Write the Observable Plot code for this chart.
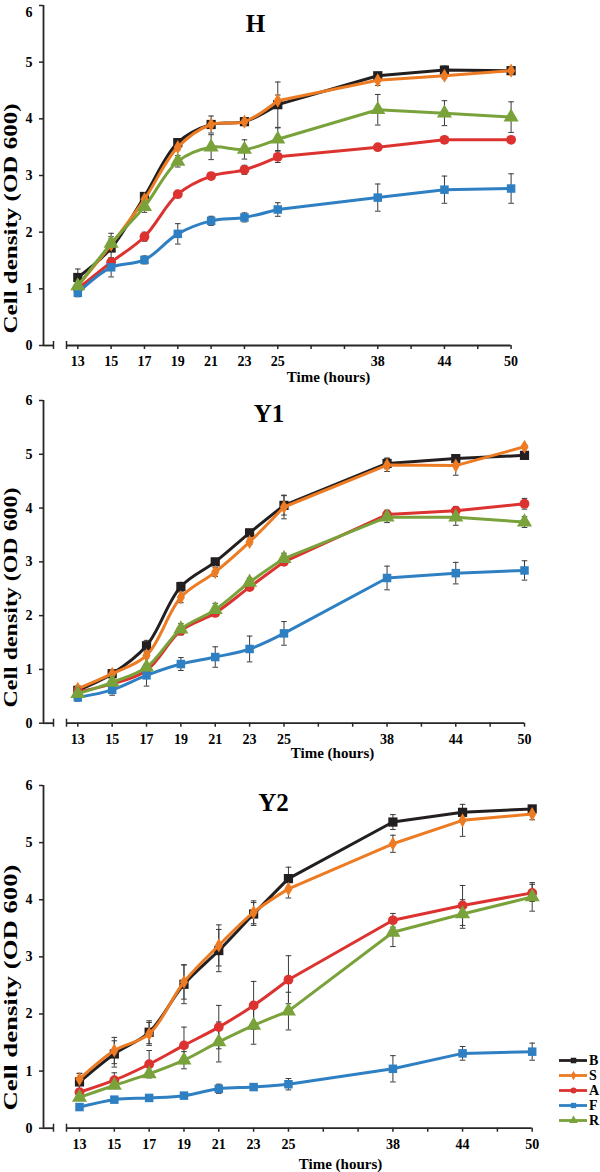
<!DOCTYPE html>
<html><head><meta charset="utf-8">
<script src="https://cdn.jsdelivr.net/npm/d3@7"></script>
<script src="https://cdn.jsdelivr.net/npm/@observablehq/plot@0.6"></script>
<style>
body{margin:0;background:#fff}
#wrap{position:relative;width:600px;height:1172px;overflow:hidden;background:#fff}
#wrap svg text{font-family:'Liberation Serif','Times New Roman',serif}
</style></head><body><div id="wrap"></div>
<script>
// ---- data ----
const tickLabels = ["13","15","17","19","21","23","25","","","38","","44","","50"];
const hours = [13,15,17,19,21,23,25,38,44,50];
const seriesNames = ["B","S","A","F","R"];
const yTicks = [0,1,2,3,4,5,6];
const panelTitles = ["H","Y1","Y2"];

// H
const hB  = [1.20,1.72,2.63,3.58,3.90,3.95,4.25,4.76,4.86,4.85];
const hBe = [0.15,0.26,0.05,0.05,0.15,0.04,0.40,0.05,0.07,0.03];
const hS  = [1.05,1.78,2.58,3.50,3.90,3.95,4.32,4.68,4.76,4.85];
const hSe = [0.05,0.10,0.05,0.05,0.05,0.05,0.10,0.09,0.05,0.03];
const hA  = [1.00,1.47,1.92,2.67,2.99,3.10,3.33,3.50,3.63,3.63];
const hAe = [0.05,0.05,0.08,0.05,0.06,0.08,0.10,0.03,0.05,0.05];
const hF  = [0.93,1.38,1.51,1.97,2.20,2.26,2.40,2.61,2.75,2.77];
const hFe = [0.07,0.17,0.07,0.18,0.08,0.08,0.12,0.24,0.24,0.26];
const hR  = [1.05,1.80,2.45,3.25,3.50,3.46,3.64,4.16,4.10,4.03];
const hRe = [0.05,0.12,0.10,0.10,0.22,0.17,0.20,0.27,0.22,0.27];
// Y1
const y1B  = [0.61,0.92,1.44,2.54,3.00,3.54,4.05,4.83,4.92,4.98];
const y1Be = [0.05,0.05,0.10,0.08,0.05,0.05,0.18,0.10,0.05,0.05];
const y1S  = [0.64,0.92,1.26,2.34,2.81,3.37,4.02,4.80,4.79,5.14];
const y1Se = [0.05,0.05,0.05,0.10,0.08,0.05,0.22,0.12,0.18,0.03];
const y1A  = [0.58,0.73,0.98,1.72,2.05,2.53,3.00,3.88,3.95,4.08];
const y1Ae = [0.05,0.05,0.05,0.08,0.06,0.06,0.05,0.08,0.08,0.10];
const y1F  = [0.48,0.62,0.89,1.10,1.23,1.38,1.67,2.70,2.79,2.84];
const y1Fe = [0.07,0.10,0.20,0.12,0.19,0.24,0.22,0.22,0.20,0.18];
const y1R  = [0.55,0.76,1.04,1.75,2.11,2.62,3.06,3.83,3.83,3.74];
const y1Re = [0.05,0.05,0.05,0.10,0.12,0.08,0.10,0.10,0.15,0.10];
// Y2
const y2B  = [0.81,1.30,1.68,2.52,3.11,3.75,4.37,5.36,5.53,5.59];
const y2Be = [0.15,0.23,0.20,0.34,0.37,0.20,0.20,0.13,0.05,0.05];
const y2S  = [0.86,1.36,1.65,2.56,3.20,3.78,4.19,4.98,5.39,5.50];
const y2Se = [0.10,0.23,0.20,0.30,0.36,0.20,0.16,0.15,0.28,0.10];
const y2A  = [0.63,0.84,1.12,1.45,1.77,2.15,2.60,3.64,3.90,4.12];
const y2Ae = [0.05,0.13,0.24,0.32,0.38,0.42,0.42,0.12,0.35,0.15];
const y2F  = [0.37,0.50,0.53,0.57,0.69,0.72,0.77,1.04,1.31,1.34];
const y2Fe = [0.05,0.05,0.05,0.05,0.08,0.05,0.10,0.23,0.12,0.15];
const y2R  = [0.54,0.75,0.95,1.19,1.51,1.80,2.05,3.43,3.75,4.05];
const y2Re = [0.05,0.05,0.05,0.15,0.35,0.33,0.33,0.25,0.25,0.25];

// ---- styles ----
const colors = {B:"#231f20", S:"#ec7b23", A:"#dc3330", F:"#2f80c2", R:"#79a23b"};
const symbols = {B:"square", S:"diamond", A:"circle", F:"square", R:"triangle"};
const radii = {B:5.2, S:4.3, A:4.9, F:4.8, R:5.6};
const FONT = "'Liberation Serif','Times New Roman',serif";
const AXIS = "#262626";

const panelData = [
  {B:[hB,hBe], S:[hS,hSe], A:[hA,hAe], F:[hF,hFe], R:[hR,hRe]},
  {B:[y1B,y1Be], S:[y1S,y1Se], A:[y1A,y1Ae], F:[y1F,y1Fe], R:[y1R,y1Re]},
  {B:[y2B,y2Be], S:[y2S,y2Se], A:[y2A,y2Ae], F:[y2F,y2Fe], R:[y2R,y2Re]},
];
const layout = [
  {svgTop:0,   svgH:388, x13:77.3, x50:510.6, yTop:5,   yBot:345,    tX:255,   tY:23,  lY:218, lLen:230, xlX:328, xlY:377},
  {svgTop:388, svgH:384, x13:77.3, x50:524,   yTop:400, yBot:722.7,  tX:268.5, tY:413, lY:597, lLen:220, xlX:332, xlY:752.5},
  {svgTop:772, svgH:400, x13:79,   x50:531.7, yTop:785, yBot:1127.7, tX:273,   tY:802, lY:987, lLen:246, xlX:340, xlY:1163.5},
];
const AXX = 43;
const capSymbol = {draw(ctx){ ctx.moveTo(-2.8,0); ctx.lineTo(2.8,0); }};

// last slot of the evenly sampled (smoothed) part: where the tick labels first leave a gap
const denseEnd = tickLabels.indexOf("");
const smoothLast = denseEnd - 1;

const wrap = document.getElementById("wrap");

panelData.forEach((pd, pi) => {
  const L = layout[pi];
  const n = tickLabels.length - 1;
  const step = (L.x50 - L.x13) / n;
  const xmin = -(L.x13 - AXX) / step;
  const brk1 = xmin + 10 / step, brk2 = xmin + 23 / step;
  const pxPerUnit = (L.yBot - L.yTop) / 6;
  const rows = seriesNames.flatMap(s => hours.map((h, i) => ({
    series: s, slot: tickLabels.indexOf(String(h)), v: pd[s][0][i], e: pd[s][1][i]
  })));
  const marks = [
    Plot.ruleX([xmin], {y1: 0, y2: 6, stroke: AXIS, strokeWidth: 1.8}),
    Plot.ruleY([0], {x1: xmin, x2: brk1, stroke: AXIS, strokeWidth: 1.8}),
    Plot.ruleY([0], {x1: brk2, x2: n, stroke: AXIS, strokeWidth: 1.8}),
    Plot.ruleX([brk1, brk2], {y1: -4 / pxPerUnit, y2: 4 / pxPerUnit, stroke: AXIS, strokeWidth: 1.5}),
    Plot.axisY({ticks: yTicks, tickSize: 4, tickPadding: 7, tickFormat: d => String(d), label: null, fontSize: 14, fontWeight: "bold", fontFamily: FONT, stroke: AXIS, strokeWidth: 1.5}),
    Plot.axisX({ticks: d3.range(0, n + 1), tickSize: 4, tickPadding: 7, tickFormat: i => tickLabels[i], label: null, fontSize: 14, fontWeight: "bold", fontFamily: FONT, stroke: AXIS, strokeWidth: 1.5}),
    Plot.ruleX(rows, {x: "slot", y1: d => d.v - d.e, y2: d => d.v + d.e, stroke: "#3a3a3a", strokeWidth: 1}),
    Plot.dot(rows, {x: "slot", y: d => d.v + d.e, symbol: capSymbol, stroke: "#3a3a3a", strokeWidth: 1}),
    Plot.dot(rows, {x: "slot", y: d => d.v - d.e, symbol: capSymbol, stroke: "#3a3a3a", strokeWidth: 1}),
  ];
  seriesNames.forEach(s => {
    const r = rows.filter(d => d.series === s);
    marks.push(Plot.line(r.filter(d => d.slot <= smoothLast), {x: "slot", y: "v", stroke: colors[s], strokeWidth: 3, curve: "catmull-rom"}));
    marks.push(Plot.line(r.filter(d => d.slot >= smoothLast), {x: "slot", y: "v", stroke: colors[s], strokeWidth: 3, curve: "linear"}));
    marks.push(Plot.dot(r, {x: "slot", y: "v", symbol: symbols[s], fill: colors[s], r: radii[s]}));
  });
  marks.push(
    Plot.text([panelTitles[pi]], {frameAnchor: "top-left", dx: L.tX - AXX, dy: L.tY - L.yTop, fontSize: 25, fontWeight: "bold", fontFamily: FONT, textAnchor: "middle", lineAnchor: "middle"}),
    Plot.text(["Cell density (OD 600)"], {frameAnchor: "top-left", dx: 10.5 - AXX, dy: L.lY - L.yTop, rotate: -90, fontSize: 19, fontWeight: "bold", fontFamily: FONT, textAnchor: "middle", lineAnchor: "middle"}),
    Plot.text(["Time (hours)"], {frameAnchor: "top-left", dx: L.xlX - AXX, dy: L.xlY - L.yTop, fontSize: 15, fontWeight: "bold", fontFamily: FONT, textAnchor: "middle", lineAnchor: "middle"})
  );
  const svg = Plot.plot({
    width: 600, height: L.svgH,
    marginLeft: AXX, marginRight: 600 - L.x50,
    marginTop: L.yTop - L.svgTop, marginBottom: L.svgTop + L.svgH - L.yBot,
    x: {domain: [xmin, n], axis: null},
    y: {domain: [0, 6], axis: null},
    style: {fontFamily: FONT, fontSize: "14px", color: "#000", background: "transparent", overflow: "visible"},
    marks
  });
  d3.select(svg).selectAll("text").filter(function(){ return this.textContent === "Cell density (OD 600)"; })
    .attr("textLength", L.lLen).attr("lengthAdjust", "spacingAndGlyphs");
  if (pi === 0) {
    // keep the top tick label inside the page, as in the reference
    d3.select(svg).selectAll("text").filter(function(){ return this.textContent === "6"; })
      .attr("dy", "0.5em");
  }
  svg.style.position = "absolute";
  svg.style.left = "0px";
  svg.style.top = L.svgTop + "px";
  wrap.appendChild(svg);
});

// ---- legend ----
const legend = Plot.plot({
  width: 50, height: 100, margin: 0,
  x: {domain: [0, 1], range: [9, 37], axis: null},
  y: {type: "point", domain: seriesNames, range: [11, 88.3], axis: null},
  style: {fontFamily: FONT, fontSize: "14px", color: "#000", background: "transparent", overflow: "visible"},
  marks: [
    Plot.ruleY(seriesNames, {y: d => d, x1: 0, x2: 1, stroke: d => colors[d], strokeWidth: 2.8}),
    Plot.dot(seriesNames, {x: 0.5, y: d => d, symbol: d => symbols[d], fill: d => colors[d], r: d => radii[d] * 0.85}),
    Plot.text(seriesNames, {x: 1, y: d => d, text: d => d, dx: 1.5, textAnchor: "start", fontSize: 14, fontWeight: "bold", fontFamily: FONT})
  ]
});
legend.style.position = "absolute";
legend.style.left = "550px";
legend.style.top = "1040px";
wrap.appendChild(legend);
</script></body></html>
